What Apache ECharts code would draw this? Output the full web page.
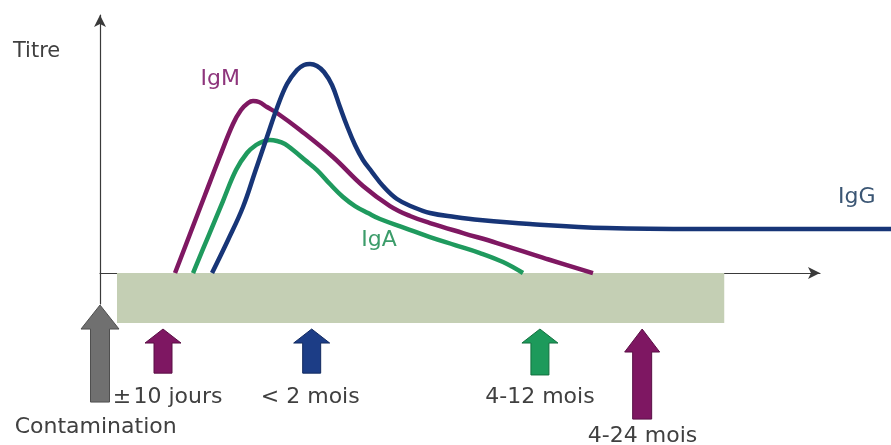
<!DOCTYPE html>
<html><head><meta charset="utf-8">
<script src="https://cdn.jsdelivr.net/npm/echarts@6/dist/echarts.min.js"></script>
<style>html,body{margin:0;padding:0;background:#fff}#c{width:891px;height:445px}</style>
</head><body><div id="c"></div>
<script>
// Time axis (arbitrary units, 0 = contamination) and titre (arbitrary units)
const igmX = [10.42, 12.5, 14.58, 16.67, 18.47, 19.58, 20.56, 21.25, 22.08, 23.19, 24.58, 27.78, 32.36, 36.53, 40.28, 43.06, 45.83, 50.42, 55.14, 62.08, 68.47];
const igmY = [0, 15.12, 30.23, 45.35, 57.75, 63.18, 65.89, 66.67, 66.28, 64.34, 62.02, 55.43, 44.96, 33.72, 25.97, 22.09, 19.38, 15.5, 11.63, 5.43, 0];
const igaX = [12.92, 15.0, 17.08, 18.89, 20.42, 21.67, 22.78, 23.61, 24.58, 25.69, 26.81, 28.47, 30.14, 31.94, 33.75, 35.42, 37.22, 38.89, 42.36, 45.83, 49.31, 52.78, 55.97, 58.75];
const igaY = [0, 13.95, 27.91, 39.92, 46.51, 49.61, 51.16, 51.55, 51.16, 50.0, 47.67, 43.8, 39.92, 34.5, 29.46, 25.97, 23.26, 20.93, 17.44, 13.95, 10.85, 7.75, 4.26, 0];
const iggX = [15.56, 17.78, 19.86, 21.53, 23.19, 24.58, 25.97, 27.36, 28.33, 29.17, 30.14, 31.11, 32.22, 33.33, 34.31, 35.42, 36.53, 37.78, 39.31, 41.25, 43.47, 45.83, 49.31, 52.78, 59.72, 70.42, 83.33, 109.86];
const iggY = [0, 12.79, 25.58, 39.15, 52.71, 63.95, 73.26, 78.68, 80.62, 81.01, 80.23, 77.91, 72.87, 64.34, 56.98, 49.61, 43.8, 39.15, 33.72, 28.68, 25.58, 23.26, 21.71, 20.54, 18.99, 17.44, 17.05, 17.05];

// Timeline band
const bandStart = 2.36, bandEnd = 86.7, bandDepth = -19.4;

// Event arrows: time, tip value, bottom value
const arrowNames = ['Contamination', '±\u200a10 jours', '< 2 mois', '4-12 mois', '4-24 mois'];
const arrowTimes = [0, 8.75, 29.4, 61.1, 75.3];
const arrowTips = [-12.4, -21.7, -21.7, -21.7, -21.7];
const arrowBottoms = [-50, -38.8, -38.8, -39.5, -56.6];
const arrowLabelX = [-0.6, 9.4, 29.2, 61.1, 75.35];
const arrowLabelY = [-59.8, -48.3, -48.3, -48.3, -63.3];

// Curve labels
const curveLabels = ['Titre', 'IgM', 'IgA', 'IgG'];
const curveLabelX = [-12.1, 16.7, 38.75, 105.1];
const curveLabelY = [86.0, 75.0, 12.6, 29.3];

const zip = (a, b) => a.map((v, i) => [v, b[i]]);
const FONT = '"DejaVu Sans", sans-serif';

// style per arrow (pixels)
const arrowStyle = [
  {fill:'#707070', stroke:'#4f4f4f', headH:24, hw:19, sw:9.5},
  {fill:'#7e1762', stroke:'#5a0f45', headH:14, hw:18, sw:9},
  {fill:'#1c3d86', stroke:'#122a60', headH:14, hw:18, sw:9},
  {fill:'#1d9a5b', stroke:'#13703f', headH:14, hw:18, sw:9},
  {fill:'#7e1762', stroke:'#5a0f45', headH:23, hw:17.5, sw:9.5}
];
const curveLabelStyle = [
  {color:'#3f3f3f', align:'left', size:21},
  {color:'#8e357c', align:'center', size:22},
  {color:'#3c9c6a', align:'center', size:22},
  {color:'#3b5674', align:'center', size:22}
];

const hiddenAxis = {axisLine: {show: false}, axisTick: {show: false}, axisLabel: {show: false}, splitLine: {show: false}};
const axisLineStyle = {color: '#3a3a3a', width: 1.2};

const chart = echarts.init(document.getElementById('c'), null, {renderer:'canvas'});
chart.setOption({
  animation: false,
  grid: [
    {left: 100, right: 71, top: 15, bottom: 141},
    {left: 100, right: 0, top: 15, bottom: 141}
  ],
  xAxis: [
    {gridIndex: 0, type: 'value', min: 0, max: 100,
      axisLine: {show: true, onZero: true, symbol: ['none', 'arrow'], symbolSize: [9, 12], lineStyle: axisLineStyle},
      axisTick: {show: false}, axisLabel: {show: false}, splitLine: {show: false}},
    Object.assign({gridIndex: 1, type: 'value', min: 0, max: 109.86}, hiddenAxis)
  ],
  yAxis: [
    {gridIndex: 0, type: 'value', min: -12, max: 100,
      axisLine: {show: true, symbol: ['none', 'arrow'], symbolSize: [9, 12], lineStyle: axisLineStyle},
      axisTick: {show: false}, axisLabel: {show: false}, splitLine: {show: false}},
    Object.assign({gridIndex: 1, type: 'value', min: -12, max: 100}, hiddenAxis)
  ],
  series: [
    {
      type: 'custom', z: 3, clip: false, xAxisIndex: 1, yAxisIndex: 1,
      data: [[bandStart, 0, bandEnd, bandDepth]],
      renderItem: function (params, api) {
        const p1 = api.coord([api.value(0), api.value(1)]);
        const p2 = api.coord([api.value(2), api.value(3)]);
        return {type: 'rect', shape: {x: p1[0], y: p1[1], width: p2[0] - p1[0], height: p2[1] - p1[1]}, style: {fill: '#c4cfb4'}};
      }
    },
    {type: 'line', name: 'IgA', z: 5, xAxisIndex: 1, yAxisIndex: 1, smooth: 0.4, symbol: 'none', data: zip(igaX, igaY), lineStyle: {color: '#1f9a5e', width: 4.5}},
    {type: 'line', name: 'IgM', z: 6, xAxisIndex: 1, yAxisIndex: 1, smooth: 0.4, symbol: 'none', data: zip(igmX, igmY), lineStyle: {color: '#7f1862', width: 4.5}},
    {type: 'line', name: 'IgG', z: 7, xAxisIndex: 1, yAxisIndex: 1, smooth: 0.4, symbol: 'none', data: zip(iggX, iggY), lineStyle: {color: '#173577', width: 4.5}},
    {
      type: 'custom', z: 8, clip: false, xAxisIndex: 1, yAxisIndex: 1,
      data: arrowTimes.map((t, i) => [t, arrowTips[i], arrowBottoms[i], i]),
      renderItem: function (params, api) {
        const i = api.value(3);
        const s = arrowStyle[i];
        const tip = api.coord([api.value(0), api.value(1)]);
        const bot = api.coord([api.value(0), api.value(2)]);
        const cx = tip[0], ty = tip[1], by = bot[1], hy = ty + s.headH;
        return {
          type: 'polygon',
          shape: {points: [[cx, ty], [cx + s.hw, hy], [cx + s.sw, hy], [cx + s.sw, by], [cx - s.sw, by], [cx - s.sw, hy], [cx - s.hw, hy]]},
          style: {fill: s.fill, stroke: s.stroke, lineWidth: 1}
        };
      }
    },
    {
      type: 'custom', z: 9, clip: false, xAxisIndex: 1, yAxisIndex: 1,
      data: arrowLabelX.map((x, i) => [x, arrowLabelY[i], i]),
      renderItem: function (params, api) {
        const p = api.coord([api.value(0), api.value(1)]);
        return {type: 'text', x: p[0], y: p[1], style: {text: arrowNames[api.value(2)], fill: '#404040', font: '22px ' + FONT, align: 'center', verticalAlign: 'middle'}};
      }
    },
    {
      type: 'custom', z: 9, clip: false, xAxisIndex: 1, yAxisIndex: 1,
      data: curveLabelX.map((x, i) => [x, curveLabelY[i], i]),
      renderItem: function (params, api) {
        const i = api.value(2);
        const s = curveLabelStyle[i];
        const p = api.coord([api.value(0), api.value(1)]);
        return {type: 'text', x: p[0], y: p[1], style: {text: curveLabels[i], fill: s.color, font: s.size + 'px ' + FONT, align: s.align, verticalAlign: 'middle'}};
      }
    }
  ]
});
</script></body></html>
